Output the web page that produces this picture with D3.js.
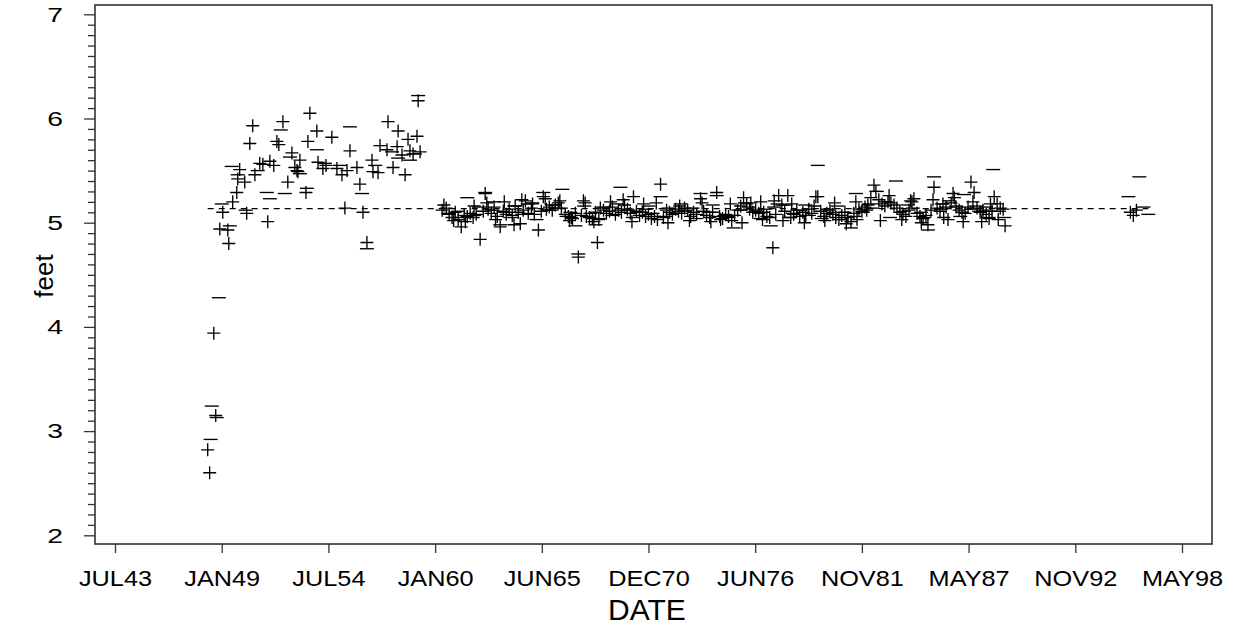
<!DOCTYPE html>
<html>
<head>
<meta charset="utf-8">
<script src="https://cdn.jsdelivr.net/npm/d3@7"></script>
<style>
  html, body { margin: 0; padding: 0; background: #fff; }
  svg { display: block; }
  text { font-family: "Liberation Sans", Arial, Helvetica, sans-serif; fill: #000; }
</style>
</head>
<body>
<svg id="chart" width="1235" height="627"></svg>
<script>
// ---------------- DATA ----------------
// x tick values in SAS date days (days since 1 Jan 1960) and their labels
const tickDays = [-6000, -4000, -2000, 0, 2000, 4000, 6000, 8000, 10000, 12000, 14000];
const tickLabels = ["JUL43", "JAN49", "JUL54", "JAN60", "JUN65", "DEC70", "JUN76", "NOV81", "MAY87", "NOV92", "MAY98"];
const yTicks = [2, 3, 4, 5, 6, 7];

// "+" observations: decimal year and value in feet
const plusYear = [
  1948.33, 1948.43, 1948.74, 1948.64, 1948.95, 1949.36, 1949.41, 1949.10, 1950.33, 1951.41,
  1949.61, 1949.82, 1949.87, 1949.97, 1950.23, 1950.75, 1950.49, 1950.64, 1951.00, 1951.52,
  1951.72, 1951.88, 1951.98, 1952.19, 1952.44, 1952.65, 1952.80, 1952.91, 1952.96, 1953.37,
  1953.47, 1953.57, 1953.93, 1953.99, 1954.24, 1954.70, 1954.96, 1955.22, 1955.37, 1955.63,
  1955.99, 1956.14, 1956.30, 1956.50, 1956.76, 1956.81, 1957.17, 1957.53, 1957.58, 1957.84,
  1958.05, 1958.10, 1958.46, 1958.61, 1958.71, 1959.07, 1959.13, 1951.16, 1953.06, 1954.40,
  1955.48, 1957.07, 1958.30, 1958.87, 1959.23,
  1960.36, 1960.57, 1960.72, 1960.87, 1961.03, 1961.18, 1961.34, 1961.49, 1961.65, 1961.80,
  1961.95, 1962.11, 1962.31, 1962.47, 1962.57, 1962.72, 1962.88, 1963.03, 1963.19, 1963.34,
  1963.50, 1963.65, 1963.80, 1963.96, 1964.11, 1964.27, 1964.37, 1964.52, 1964.63, 1964.78,
  1964.94, 1965.09, 1965.30, 1965.45, 1965.55, 1965.71, 1965.86, 1966.01, 1966.17, 1966.32,
  1966.48, 1966.68, 1966.84, 1966.99, 1967.20, 1967.35, 1967.51, 1967.61, 1967.76, 1967.92,
  1968.07, 1968.23, 1968.33, 1968.48, 1968.64, 1968.79, 1968.95, 1969.10, 1969.25, 1969.41,
  1969.56, 1969.72, 1969.87, 1970.02, 1970.18, 1970.33, 1970.49, 1970.64, 1970.80, 1970.95,
  1971.10, 1971.26, 1971.41, 1971.57, 1971.72, 1971.88, 1972.03, 1972.18, 1972.34, 1972.49,
  1972.65, 1972.80, 1972.96, 1973.11, 1973.26, 1973.42, 1973.62, 1973.78, 1973.93, 1974.09,
  1974.24, 1974.45, 1974.60, 1974.75, 1974.91, 1975.06, 1975.22, 1975.37, 1975.53, 1975.68,
  1975.83, 1975.99, 1976.14, 1976.30, 1976.45, 1976.61, 1976.71, 1976.86, 1977.02, 1977.17,
  1977.33, 1977.48, 1977.63, 1977.79, 1977.94, 1978.10, 1978.25, 1978.40, 1978.56, 1978.71,
  1978.87, 1979.02, 1979.18, 1979.33, 1979.54, 1979.64, 1979.79, 1979.95, 1980.10, 1980.26,
  1980.41, 1980.56, 1980.72, 1980.87, 1981.03, 1981.18, 1981.34, 1981.49, 1981.59, 1981.75,
  1981.90, 1982.06, 1982.21, 1982.36, 1982.52, 1982.62, 1982.77, 1982.93, 1983.08, 1983.24,
  1983.39, 1983.55, 1983.70, 1983.85, 1984.01, 1984.16, 1984.32, 1984.47, 1984.57, 1984.73,
  1984.88, 1985.04, 1985.19, 1985.29, 1985.45, 1985.60, 1985.76, 1985.91, 1986.06, 1986.22,
  1986.32, 1986.48, 1986.58, 1986.73, 1986.89, 1987.04, 1987.20, 1987.35, 1987.50, 1987.66,
  1987.81, 1987.97, 1988.12, 1988.28, 1988.43, 1988.58, 1988.69, 1988.84, 1989.00, 1989.15,
  1989.25, 1995.68, 1995.83, 1995.99,
  1960.45, 1960.95, 1961.55, 1962.00, 1962.65, 1963.10, 1963.55, 1964.05, 1964.45, 1965.00,
  1965.65, 1966.40, 1966.90, 1967.05, 1967.70, 1968.15, 1968.40, 1969.00, 1969.65, 1970.10,
  1970.70, 1971.35, 1971.95, 1972.55, 1973.05, 1973.70, 1974.15, 1974.65, 1975.15, 1975.75,
  1976.20, 1976.80, 1977.40, 1977.85, 1978.30, 1978.95, 1979.45, 1980.00, 1980.50, 1981.10,
  1981.65, 1982.15, 1982.85, 1983.30, 1983.95, 1984.40, 1984.95, 1985.55, 1986.10, 1986.65,
  1987.10, 1987.60, 1988.05, 1988.50, 1988.90
];
const plusFeet = [
  2.82, 2.60, 3.15, 3.94, 4.94, 4.93, 4.80, 5.10, 5.09, 5.01,
  5.20, 5.29, 5.42, 5.51, 5.39, 5.46, 5.76, 5.93, 5.57, 5.59,
  5.55, 5.78, 5.75, 5.97, 5.39, 5.67, 5.53, 5.50, 5.49, 5.29,
  5.78, 6.05, 5.88, 5.58, 5.52, 5.82, 5.52, 5.46, 5.14, 5.69,
  5.53, 5.37, 5.10, 4.81, 5.60, 5.49, 5.74, 5.70, 5.97, 5.53,
  5.73, 5.88, 5.46, 5.80, 5.69, 5.83, 6.17, 5.56, 5.60, 5.55,
  5.50, 5.48, 5.65, 5.66, 5.68,
  5.12, 5.14, 5.08, 5.05, 5.10, 5.03, 4.96, 5.07, 5.06, 5.09,
  5.05, 5.08, 4.84, 5.11, 5.28, 5.13, 5.09, 5.15, 5.06, 4.96,
  5.11, 5.08, 5.13, 5.07, 5.16, 5.10, 4.99, 5.12, 5.21, 5.09,
  5.14, 5.08, 4.93, 5.11, 5.25, 5.13, 5.15, 5.12, 5.17, 5.19,
  5.14, 5.08, 5.06, 5.05, 5.09, 4.67, 5.07, 5.21, 5.06, 5.05,
  5.04, 5.10, 4.81, 5.14, 5.12, 5.09, 5.11, 5.15, 5.08, 5.12,
  5.10, 5.17, 5.13, 5.09, 5.25, 5.11, 5.07, 5.10, 5.06, 5.08,
  5.04, 5.06, 5.03, 5.37, 5.05, 5.12, 5.10, 5.08, 5.13, 5.11,
  5.09, 5.14, 5.12, 5.06, 5.10, 5.08, 5.23, 5.11, 5.07, 5.05,
  5.10, 5.29, 5.06, 5.04, 5.08, 5.06, 5.02, 5.07, 5.12, 5.16,
  5.24, 5.18, 5.13, 5.10, 5.12, 5.09, 5.20, 5.10, 5.06, 5.05,
  4.76, 5.08, 5.26, 5.17, 5.11, 5.26, 5.05, 5.08, 5.12, 5.06,
  5.10, 5.07, 5.13, 5.09, 5.25, 5.25, 5.11, 5.06, 5.09, 5.12,
  5.08, 5.05, 5.03, 5.07, 5.10, 5.05, 5.01, 5.09, 5.20, 5.13,
  5.11, 5.15, 5.17, 5.24, 5.36, 5.30, 5.22, 5.18, 5.16, 5.20,
  5.19, 5.17, 5.14, 5.10, 5.08, 5.06, 5.12, 5.20, 5.23, 5.09,
  5.06, 5.04, 5.07, 4.98, 5.12, 5.34, 5.14, 5.11, 5.18, 5.15,
  5.03, 5.19, 5.28, 5.15, 5.12, 5.10, 5.09, 5.15, 5.39, 5.29,
  5.14, 5.10, 5.12, 5.08, 5.04, 5.11, 5.25, 5.18, 5.14, 5.13,
  4.97, 5.10, 5.07, 5.12,
  5.17, 5.02, 5.01, 5.16, 5.19, 5.03, 5.20, 4.98, 5.22, 5.18,
  5.23, 5.21, 5.02, 5.04, 5.19, 5.01, 5.03, 5.20, 5.22, 5.01,
  5.18, 5.19, 5.00, 5.16, 5.02, 5.19, 5.01, 5.03, 5.18, 5.00,
  5.19, 5.03, 5.21, 5.02, 5.18, 5.00, 5.16, 5.02, 5.19, 4.99,
  5.03, 5.12, 5.02, 5.26, 5.03, 5.21, 5.00, 5.22, 5.05, 5.24,
  5.01, 5.20, 5.01, 5.18, 5.03
];

// "-" observations: decimal year and value in feet
const dashYear = [
  1948.90, 1948.54, 1948.79, 1948.48, 1949.46, 1949.05, 1949.56, 1949.87, 1951.36, 1951.52,
  1952.29, 1952.08, 1953.42, 1953.93, 1955.63, 1956.25, 1956.50, 1958.10, 1958.71, 1959.13,
  1950.90, 1952.55, 1953.06, 1954.34, 1955.12, 1956.92, 1957.79, 1958.97, 1950.28,
  1960.67, 1961.18, 1961.65, 1962.00, 1962.57, 1962.93, 1963.34, 1963.60, 1964.06, 1964.47,
  1964.99, 1965.55, 1965.81, 1966.22, 1966.53, 1966.94, 1967.20, 1967.35, 1967.97, 1968.23,
  1968.64, 1969.10, 1969.51, 1969.92, 1970.38, 1970.80, 1971.16, 1971.57, 1971.98, 1972.39,
  1972.80, 1973.21, 1973.62, 1974.03, 1974.45, 1974.86, 1975.32, 1975.68, 1976.09, 1976.50,
  1976.91, 1977.22, 1977.58, 1977.99, 1978.35, 1978.76, 1979.18, 1979.64, 1980.10, 1980.46,
  1980.87, 1981.34, 1981.59, 1981.95, 1982.26, 1982.67, 1983.08, 1983.65, 1984.06, 1984.52,
  1984.93, 1985.29, 1985.60, 1985.96, 1986.37, 1986.73, 1987.14, 1987.50, 1987.92, 1988.28,
  1988.64, 1988.94, 1989.20, 1995.58, 1996.14, 1996.35, 1996.60,
  1961.40, 1962.25, 1963.00, 1963.90, 1964.75, 1965.20, 1966.00, 1966.75, 1967.65, 1968.45,
  1969.30, 1970.15, 1970.95, 1971.80, 1972.60, 1973.40, 1974.25, 1975.05, 1975.90, 1976.70,
  1977.40, 1978.20, 1979.00, 1979.85, 1980.65, 1981.50, 1982.45, 1983.35, 1984.25, 1985.10,
  1986.00, 1986.95, 1987.75, 1988.40
];
const dashFeet = [
  4.28, 3.24, 3.13, 2.92, 4.97, 5.18, 5.54, 5.46, 5.29, 5.23,
  5.28, 5.89, 5.33, 5.70, 5.92, 5.28, 4.75, 5.62, 5.60, 6.22,
  5.50, 5.63, 5.47, 5.57, 5.55, 5.55, 5.68, 5.66, 5.12,
  5.09, 5.11, 5.24, 5.07, 5.29, 5.12, 4.98, 5.10, 5.16, 5.08,
  5.19, 5.29, 5.12, 5.14, 5.32, 5.10, 4.97, 4.70, 5.09, 4.98,
  5.15, 5.07, 5.34, 5.12, 5.10, 5.13, 5.09, 5.25, 5.14, 5.09,
  5.11, 5.14, 5.28, 5.10, 5.26, 5.07, 4.95, 5.12, 5.15, 5.11,
  5.13, 4.97, 5.18, 5.17, 5.09, 5.12, 5.07, 5.55, 5.13, 5.10,
  5.03, 4.95, 5.28, 5.10, 5.18, 5.30, 5.20, 5.40, 5.11, 5.14,
  5.10, 4.93, 5.44, 5.13, 5.21, 5.16, 5.27, 5.13, 5.11, 5.15,
  5.51, 5.11, 5.05, 5.25, 5.44, 5.15, 5.08,
  5.05, 5.15, 5.20, 5.05, 5.18, 5.03, 5.17, 5.06, 5.16, 5.04,
  5.18, 5.05, 5.16, 5.06, 5.18, 5.04, 5.17, 5.05, 5.19, 5.04,
  5.15, 5.05, 5.17, 5.04, 5.16, 5.06, 5.14, 5.05, 5.17, 5.05,
  5.18, 5.06, 5.16, 5.05
];

// reference (mean) level drawn as dashed line
const meanFeet = 5.135;

// ---------------- HELPERS ----------------
const DAY = 86400000;
const sasEpoch = Date.UTC(1960, 0, 1);
const fromSasDay = d => new Date(sasEpoch + d * DAY);
const fromDecYear = y => {
  const yr = Math.floor(y);
  const start = Date.UTC(yr, 0, 1), end = Date.UTC(yr + 1, 0, 1);
  return new Date(start + (y - yr) * (end - start));
};

// ---------------- LAYOUT ----------------
const frame = { left: 95, right: 1212, top: 5, bottom: 544 };
const svg = d3.select("#chart");

const x = d3.scaleUtc()
  .domain([fromSasDay(tickDays[0]), fromSasDay(tickDays[tickDays.length - 1])])
  .range([115, 1182]);
const y = d3.scaleLinear()
  .domain([2, 7])
  .range([535.3, 14.3]);

// frame
svg.append("rect")
  .attr("x", frame.left).attr("y", frame.top)
  .attr("width", frame.right - frame.left).attr("height", frame.bottom - frame.top)
  .attr("fill", "none").attr("stroke", "#333").attr("stroke-width", 1.6);

// x axis
const xAxis = d3.axisBottom(x)
  .tickValues(tickDays.map(fromSasDay))
  .tickFormat((d, i) => tickLabels[i])
  .tickSize(9).tickPadding(17);
const gx = svg.append("g").attr("transform", `translate(0,${frame.bottom})`).call(xAxis);
gx.select(".domain").remove();
gx.selectAll(".tick line").attr("stroke", "#333").attr("stroke-width", 1.3);
gx.selectAll(".tick text")
  .attr("font-size", 22).attr("font-family", "Liberation Sans, Arial, sans-serif")
  .attr("fill", "#000")
  .attr("transform", "scale(1.15,1)");

// y axis minor ticks
const minorVals = d3.range(20, 71).map(v => v / 10).filter(v => Math.abs(v - Math.round(v)) > 1e-6);
const yMinor = d3.axisLeft(y).tickValues(minorVals).tickSize(7).tickFormat("");
const gym = svg.append("g").attr("transform", `translate(${frame.left},0)`).call(yMinor);
gym.select(".domain").remove();
gym.selectAll(".tick line").attr("stroke", "#333").attr("stroke-width", 1.3);

// y axis major ticks
const yAxis = d3.axisLeft(y).tickValues(yTicks).tickFormat(d3.format("d")).tickSize(11).tickPadding(6);
const gy = svg.append("g").attr("transform", `translate(${frame.left},0)`).call(yAxis);
gy.select(".domain").remove();
gy.selectAll(".tick line").attr("stroke", "#333").attr("stroke-width", 1.3);
gy.selectAll(".tick text")
  .attr("font-size", 21).attr("font-family", "Liberation Sans, Arial, sans-serif")
  .attr("fill", "#000")
  .attr("transform", "translate(-17,0) scale(1.35,1)")
  .attr("text-anchor", "middle");

// axis titles
svg.append("text")
  .attr("x", 647).attr("y", 620)
  .attr("text-anchor", "middle")
  .attr("font-size", 30)
  .text("DATE");
svg.append("text")
  .attr("transform", "translate(53,276) rotate(-90)")
  .attr("text-anchor", "middle")
  .attr("font-size", 26)
  .text("feet");

// dashed mean line across data range
const allYears = plusYear.concat(dashYear);
const ext = d3.extent(allYears).map(fromDecYear);
svg.append("line")
  .attr("x1", x(ext[0])).attr("x2", x(ext[1]))
  .attr("y1", y(meanFeet)).attr("y2", y(meanFeet))
  .attr("stroke", "#000").attr("stroke-width", 1.2)
  .attr("stroke-dasharray", "6,5");

// markers
const plusData = plusYear.map((yr, i) => ({ date: fromDecYear(yr), v: plusFeet[i] }));
const dashData = dashYear.map((yr, i) => ({ date: fromDecYear(yr), v: dashFeet[i] }));
const h = 6.5;
svg.append("g").selectAll("path").data(plusData).join("path")
  .attr("d", d => {
    const px = x(d.date), py = y(d.v);
    return `M${px - h},${py}H${px + h}M${px},${py - h}V${py + h}`;
  })
  .attr("stroke", "#000").attr("stroke-width", 1.35).attr("fill", "none");
const dh = 7;
svg.append("g").selectAll("path").data(dashData).join("path")
  .attr("d", d => {
    const px = x(d.date), py = y(d.v);
    return `M${px - dh},${py}H${px + dh}`;
  })
  .attr("stroke", "#000").attr("stroke-width", 1.35).attr("fill", "none");
</script>
</body>
</html>
